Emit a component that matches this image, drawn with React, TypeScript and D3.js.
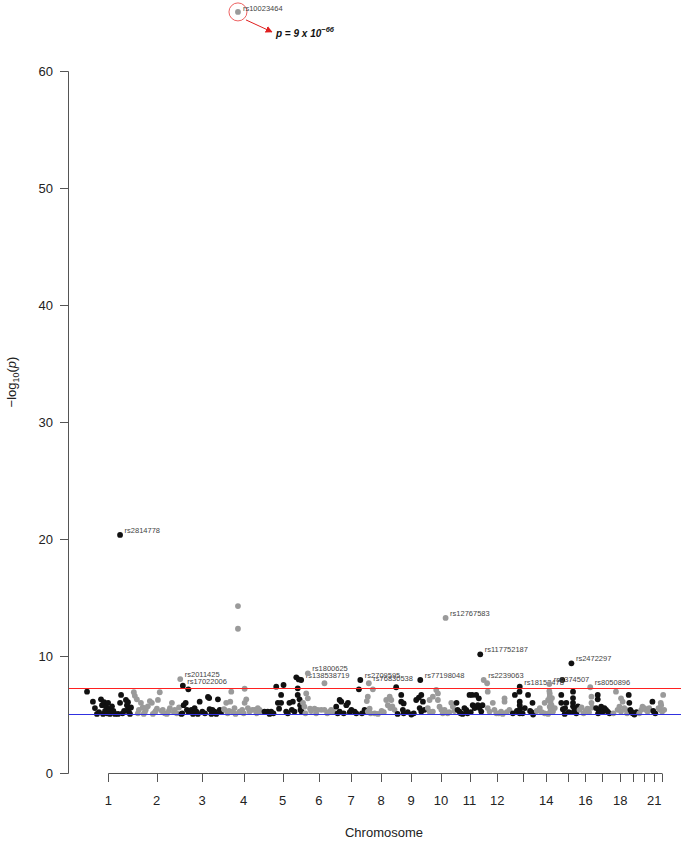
import React from 'react';
import * as d3 from 'd3';

// chromosome extents (Mb) as they span the x axis
const chromLen = [241, 236, 212, 197, 190, 166, 153, 143, 153, 143, 138, 135, 123, 103, 108, 69, 98, 79, 49, 59, 39, 39];
const shownTicks = [1, 2, 3, 4, 5, 6, 7, 8, 9, 10, 11, 12, 14, 16, 18, 21];
const yTicks = [0, 10, 20, 30, 40, 50, 60];

// [position within chromosome (Mb), -log10(p)]
type Pt = [number, number];
const c1: Pt[] = [[15, 6.95], [44, 6.1], [54, 5.55], [64, 5.05], [74, 5.2], [84, 6.3], [89, 5.8], [94, 5.05], [99, 6.05], [104, 5.3], [109, 5.7], [114, 5.1], [119, 6.0], [124, 5.45], [128, 5.05], [138, 5.7], [145, 5.3], [153, 5.05], [168, 5.05], [178, 6.0], [183, 6.67], [190, 5.1], [198, 5.3], [207, 6.25], [212, 5.8], [217, 5.45], [217, 6.05], [222, 5.2], [227, 5.05], [232, 5.6]];
const c2: Pt[] = [[5, 6.9], [10, 6.6], [20, 6.3], [25, 5.1], [30, 5.4], [40, 6.0], [49, 5.6], [54, 5.05], [59, 5.2], [64, 5.4], [74, 5.7], [84, 6.15], [94, 6.0], [99, 5.05], [109, 5.2], [113, 5.3], [119, 5.5], [124, 6.25], [133, 6.9], [143, 5.3], [148, 5.4], [158, 5.1], [168, 5.05], [178, 5.3], [183, 5.55], [193, 6.0], [203, 5.2], [207, 5.4], [217, 5.1], [228, 5.6]];
const c3: Pt[] = [[4, 5.05], [8, 5.1], [15, 5.8], [25, 6.0], [31, 5.4], [38, 7.15], [40, 5.2], [53, 5.4], [61, 5.05], [69, 5.55], [78, 5.25], [85, 5.05], [94, 6.1], [107, 5.25], [120, 5.1], [135, 6.5], [141, 6.4], [143, 5.45], [152, 5.05], [157, 5.4], [168, 5.25], [176, 5.05], [184, 6.3], [193, 5.4], [200, 5.2]];
const c4: Pt[] = [[2, 5.45], [5, 5.4], [13, 6.0], [20, 5.1], [27, 5.3], [33, 6.1], [38, 6.95], [46, 5.25], [54, 5.55], [59, 5.05], [71, 14.27], [71, 12.33], [79, 5.25], [92, 5.4], [99, 5.1], [104, 7.2], [104, 6.0], [112, 6.3], [120, 5.55], [128, 5.25], [142, 5.4], [153, 5.4], [163, 5.1], [169, 5.55], [178, 5.4], [186, 5.2]];
const c5: Pt[] = [[5, 5.25], [21, 5.25], [30, 5.05], [38, 5.25], [49, 5.1], [63, 7.38], [71, 6.0], [77, 5.5], [87, 6.67], [87, 6.0], [99, 7.52], [112, 5.25], [120, 5.1], [128, 6.0], [140, 5.4], [145, 6.1], [153, 5.25], [162, 8.18], [169, 7.24], [169, 6.67], [174, 8.0], [178, 6.3], [181, 5.8], [183, 5.4], [188, 5.25]];
const c6: Pt[] = [[5, 6.0], [12, 5.67], [17, 5.1], [21, 6.8], [29, 6.38], [40, 5.5], [45, 5.3], [62, 5.5], [70, 5.1], [78, 5.4], [95, 5.4], [111, 7.67], [111, 5.4], [125, 5.1], [136, 5.25], [144, 5.4], [155, 5.2]];
const c7: Pt[] = [[3, 5.67], [10, 5.1], [20, 6.24], [20, 5.25], [28, 6.1], [40, 5.1], [53, 5.8], [61, 6.0], [70, 5.2], [78, 5.4], [94, 5.25], [102, 5.1], [115, 7.15], [130, 5.1], [143, 5.4], [148, 5.25]];
const c8: Pt[] = [[1, 6.15], [6, 6.52], [6, 5.25], [15, 5.5], [20, 5.1], [31, 7.15], [40, 5.1], [56, 5.05], [74, 5.3], [85, 5.2], [97, 6.24], [105, 5.8], [114, 6.52], [117, 5.55], [122, 6.24], [127, 5.7], [138, 5.4]];
const c9: Pt[] = [[3, 7.33], [10, 5.05], [28, 6.67], [28, 6.1], [36, 5.4], [40, 5.95], [40, 5.1], [60, 5.2], [78, 5.0], [90, 5.1], [102, 6.24], [115, 6.45], [119, 5.55], [127, 6.67], [127, 5.25], [135, 6.1], [143, 5.4]];
const c10: Pt[] = [[6, 5.55], [15, 6.24], [15, 5.25], [31, 6.52], [31, 5.25], [48, 7.1], [56, 6.8], [56, 6.24], [64, 5.67], [73, 5.4], [80, 5.1], [89, 5.4], [104, 5.1], [112, 5.2], [122, 6.0], [130, 5.67], [138, 5.3]];
const c11: Pt[] = [[5, 6.0], [10, 5.4], [20, 5.25], [25, 5.1], [35, 5.05], [44, 5.55], [53, 5.4], [59, 5.1], [69, 6.67], [75, 5.2], [82, 6.67], [85, 5.8], [94, 5.55], [102, 6.67], [110, 5.8], [115, 6.38], [119, 5.55], [127, 5.25], [133, 5.8]];
const c12: Pt[] = [[18, 7.67], [21, 6.95], [21, 5.55], [30, 5.25], [46, 6.0], [54, 5.4], [64, 5.1], [75, 5.1], [87, 5.25], [95, 5.05], [104, 6.38], [104, 6.1], [115, 5.2], [128, 5.4]];
const c13: Pt[] = [[10, 5.1], [20, 6.67], [30, 5.3], [43, 6.95], [44, 6.1], [44, 5.8], [45, 5.45], [44, 5.1], [58, 5.1], [69, 5.55], [85, 6.67], [95, 5.3], [102, 5.2], [107, 6.0], [110, 5.0]];
const c14: Pt[] = [[5, 5.3], [20, 5.55], [30, 5.2], [44, 6.0], [44, 5.1], [61, 6.24], [61, 5.05], [67, 7.0], [69, 6.8], [69, 6.52], [73, 6.1], [69, 5.67], [71, 5.2], [74, 5.4], [78, 5.8], [80, 6.4], [85, 5.25], [94, 5.55]];
const c15: Pt[] = [[23, 6.67], [23, 6.0], [28, 7.95], [31, 5.45], [40, 5.05], [42, 5.55], [48, 6.0], [60, 5.2], [81, 6.95], [81, 6.4], [81, 6.0], [81, 5.7], [84, 5.2], [89, 5.45], [97, 5.1], [105, 5.7]];
const c16: Pt[] = [[5, 5.4], [15, 5.6], [25, 5.1], [35, 5.3], [44, 5.5], [52, 5.2], [64, 6.52], [64, 6.0], [67, 5.6]];
const c17: Pt[] = [[18, 5.55], [26, 6.67], [26, 6.3], [28, 5.1], [31, 5.4], [35, 5.2], [43, 5.67], [51, 5.25], [59, 5.55], [67, 5.4], [75, 5.25], [84, 5.1]];
const c18: Pt[] = [[5, 5.1], [18, 6.95], [26, 5.4], [35, 5.67], [43, 6.38], [43, 5.25], [51, 6.1], [59, 5.55], [68, 5.4], [73, 5.1]];
const c19: Pt[] = [[2, 6.67], [5, 6.0], [10, 5.4], [15, 5.25], [21, 5.1], [30, 5.0], [40, 5.2]];
const c20: Pt[] = [[5, 5.1], [15, 5.4], [21, 5.67], [30, 5.55], [38, 5.4], [46, 5.25], [54, 5.55]];
const c21: Pt[] = [[11, 6.1], [15, 5.3], [25, 5.1]];
const c22: Pt[] = [[2, 5.55], [10, 5.4], [13, 6.0], [15, 5.8], [20, 5.25], [25, 6.67], [30, 5.4]];
const snpsByChrom = [c1, c2, c3, c4, c5, c6, c7, c8, c9, c10, c11, c12, c13, c14, c15, c16, c17, c18, c19, c20, c21, c22];

// labelled hits: chromosome, position (Mb), -log10(p), rsid
const hitChrom = [1, 2, 3, 5, 6, 7, 8, 9, 10, 11, 12, 13, 14, 15, 16];
const hitPos = [178, 234, 11, 186, 29, 122, 11, 122, 94, 122, 1, 44, 67, 73, 58];
const hitP = [20.35, 8.03, 7.46, 7.95, 8.52, 7.95, 7.67, 7.95, 13.25, 10.14, 7.95, 7.38, 7.6, 9.37, 7.33];
const hitId = ['rs2814778', 'rs2011425', 'rs17022006', 'rs138538719', 'rs1800625', 'rs2709595', 'rs76830538', 'rs77198048', 'rs12767583', 'rs117752187', 'rs2239063', 'rs18153478', 'rs6374507', 'rs2472297', 'rs8050896'];

// the top hit, drawn with its own call-out
const topHit = { chrom: 4, pos: 71, logp: 65.05, id: 'rs10023464' };

const genomeWide = -Math.log10(5e-8);
const suggestive = 5;

const BLACK = '#111111';
const GREY = '#9a9a9a';
const FONT = '"Liberation Sans", Arial, Helvetica, sans-serif';

const App: React.FC = () => {
  const width = 685;
  const height = 841;

  const offsets: number[] = [];
  chromLen.reduce((acc, l) => { offsets.push(acc); return acc + l; }, 0);
  const total = d3.sum(chromLen);

  const x = d3.scaleLinear().domain([0, total]).range([84, 666]);
  const y = d3.scaleLinear().domain([0, 60]).range([773, 71]);
  // snap hairlines to the pixel grid so they stay crisp
  const crisp = (v: number) => Math.round(v) + 0.5;

  const gx = (chrom: number, pos: number) => x(offsets[chrom - 1] + pos);
  const colour = (chrom: number) => (chrom % 2 === 1 ? BLACK : GREY);
  const centres = chromLen.map((l, i) => x(offsets[i] + l / 2));

  const points = snpsByChrom.flatMap((pts, i) => pts.map(([pos, lp]) => ({ chrom: i + 1, pos, lp })));
  const hits = hitId.map((id, i) => ({ chrom: hitChrom[i], pos: hitPos[i], lp: hitP[i], id }));

  const tx = gx(topHit.chrom, topHit.pos);
  const ty = y(topHit.logp);
  const R = 2.9;

  return (
    <svg width={width} height={height} style={{ display: 'block', position: 'absolute', left: 0, top: 0 }} fontFamily={FONT}>
      <defs>
        <marker id="arr" viewBox="0 0 10 10" refX="9" refY="5" markerWidth="7" markerHeight="7" orient="auto">
          <path d="M0,0 L10,5 L0,10 z" fill="#e02020" />
        </marker>
      </defs>

      {/* y axis */}
      <line x1={68.5} x2={68.5} y1={crisp(y(0))} y2={crisp(y(60))} stroke="#555" />
      {yTicks.map(t => (
        <g key={t}>
          <line x1={60} x2={68.5} y1={crisp(y(t))} y2={crisp(y(t))} stroke="#555" />
          <text x={53} y={y(t)} dy="0.35em" textAnchor="end" fontSize={13} fill="#222">{t}</text>
        </g>
      ))}
      <text transform={`translate(16,382) rotate(-90)`} textAnchor="middle" fontSize={13} fill="#222">
        −log<tspan fontSize={9} dy={3}>10</tspan><tspan dy={-3}>(</tspan><tspan fontStyle="italic">p</tspan>)
      </text>

      {/* x axis */}
      <line x1={centres[0]} x2={centres[centres.length - 1]} y1={773.5} y2={773.5} stroke="#555" />
      {centres.map((c, i) => (
        <line key={i} x1={crisp(c)} x2={crisp(c)} y1={773.5} y2={782} stroke="#555" />
      ))}
      {shownTicks.map(t => (
        <text key={t} x={centres[t - 1]} y={805} textAnchor="middle" fontSize={13} fill="#222">{t}</text>
      ))}
      <text x={384} y={837} textAnchor="middle" fontSize={13} fill="#222">Chromosome</text>

      {/* points */}
      {points.map((d, i) => (
        <circle key={i} cx={gx(d.chrom, d.pos)} cy={y(d.lp)} r={R} fill={colour(d.chrom)} />
      ))}
      {hits.map(d => (
        <g key={d.id}>
          <circle cx={gx(d.chrom, d.pos)} cy={y(d.lp)} r={R} fill={colour(d.chrom)} />
          <text x={gx(d.chrom, d.pos) + 4.5} y={y(d.lp) - 2} fontSize={7.5} fill="#444">{d.id}</text>
        </g>
      ))}

      {/* thresholds */}
      <line x1={69} x2={681} y1={crisp(y(genomeWide))} y2={crisp(y(genomeWide))} stroke="#ff2020" strokeWidth={1} />
      <line x1={69} x2={681} y1={crisp(y(suggestive))} y2={crisp(y(suggestive))} stroke="#3030e0" strokeWidth={1} />

      {/* top hit call-out */}
      <circle cx={tx} cy={ty} r={R} fill={GREY} />
      <circle cx={tx} cy={ty} r={9} fill="none" stroke="#e83a3a" strokeWidth={0.8} />
      <text x={tx + 5} y={ty - 1} fontSize={7.5} fill="#444">{topHit.id}</text>
      <line x1={tx + 8} y1={ty + 8} x2={tx + 34} y2={ty + 20} stroke="#e02020" strokeWidth={1} markerEnd="url(#arr)" />
      <text x={tx + 38} y={ty + 25} fontSize={10} fontWeight="bold" fontStyle="italic" fill="#111">
        p = 9 x 10<tspan fontSize={7.5} dy={-5}>−66</tspan>
      </text>
    </svg>
  );
};

export default App;
